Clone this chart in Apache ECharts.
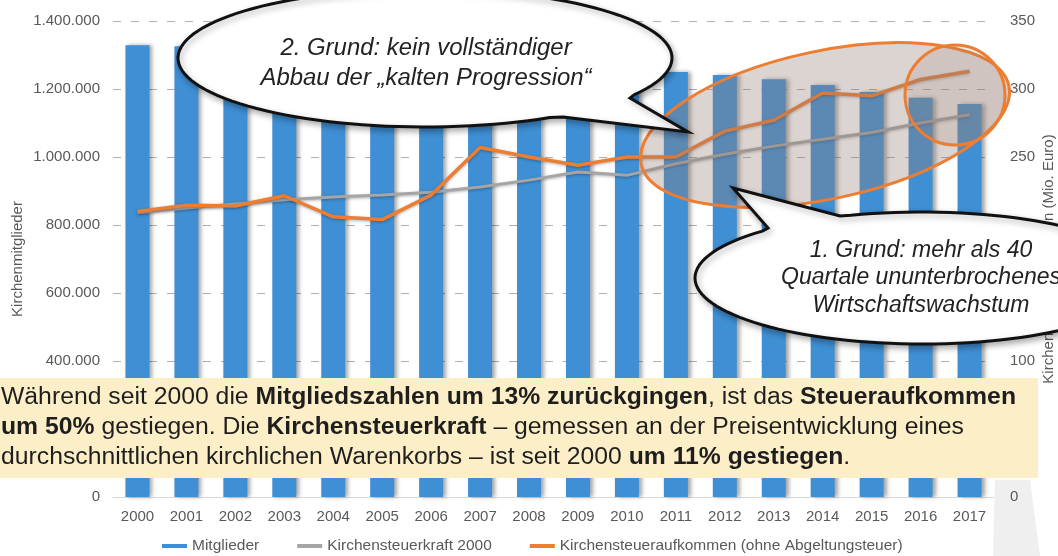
<!DOCTYPE html>
<html>
<head>
<meta charset="utf-8">
<script src="https://cdn.jsdelivr.net/npm/echarts@6/dist/echarts.min.js"></script>
<style>
  html, body { margin: 0; padding: 0; background: #fff; }
  #chart { width: 1058px; height: 556px; }
</style>
</head>
<body>
<div id="chart"></div>
<script>
// Daten
const years = ['2000', '2001', '2002', '2003', '2004', '2005', '2006', '2007', '2008',
  '2009', '2010', '2011', '2012', '2013', '2014', '2015', '2016', '2017']
const mitglieder = [1329000, 1326000, 1316000, 1305000, 1293000, 1282000, 1274000, 1267000, 1261000,
  1257000, 1253000, 1250000, 1241000, 1229000, 1212000, 1191000, 1174000, 1156000]
const steuerkraft = [209, 212.5, 215.5, 218.5, 220.5, 222, 224, 228, 233,
  239, 236.5, 245, 252, 258, 263, 268, 275, 281]
const aufkommen = [210, 214.5, 214, 221.5, 206, 204, 222, 257, 250,
  244, 250, 250, 269, 277, 297, 295, 307, 313]

const FONT = 'Arial, "Liberation Sans", sans-serif'
const GREY = '#595959'

const chart = echarts.init(document.getElementById('chart'), null, { renderer: 'canvas' })

function dots(v) {
  return String(v).replace(/\B(?=(\d{3})+(?!\d))/g, '.')
}

// Sprechblase: Ellipse mit Spitze, als Polygon
function bubble(cx, cy, rx, ry, p1, tip, p2) {
  const a1 = Math.atan2((p1[1] - cy) / ry, (p1[0] - cx) / rx)
  const a2 = Math.atan2((p2[1] - cy) / ry, (p2[0] - cx) / rx)
  let diff = a1 - a2
  while (diff < 0) diff += Math.PI * 2
  while (diff >= Math.PI * 2) diff -= Math.PI * 2
  if (diff < Math.PI) diff -= Math.PI * 2
  const pts = [p1, tip, p2]
  const n = 120
  for (let i = 1; i < n; i++) {
    const a = a2 + diff * i / n
    pts.push([cx + rx * Math.cos(a), cy + ry * Math.sin(a)])
  }
  return pts
}

const bubbleStyle = {
  fill: '#fff', stroke: '#111', lineWidth: 3, lineJoin: 'miter',
  shadowColor: 'rgba(0,0,0,0.3)', shadowBlur: 6, shadowOffsetX: 2, shadowOffsetY: 3
}

const option = {
  animation: false,
  backgroundColor: '#fff',
  textStyle: { fontFamily: FONT },
  grid: { left: 113, right: 64, top: 21, bottom: 59, outerBoundsMode: 'none' },
  legend: {
    left: 157,
    top: 533,
    icon: 'rect',
    itemWidth: 25,
    itemHeight: 4,
    itemGap: 38,
    textStyle: { color: GREY, fontSize: 15.5, fontFamily: FONT },
    data: ['Mitglieder', 'Kirchensteuerkraft 2000', 'Kirchensteueraufkommen (ohne Abgeltungsteuer)']
  },
  xAxis: {
    type: 'category',
    data: years,
    axisTick: { show: false },
    axisLine: { lineStyle: { color: '#d9d9d9' } },
    axisLabel: { color: GREY, fontSize: 15, margin: 12 }
  },
  yAxis: [
    {
      type: 'value',
      min: 0,
      max: 1400000,
      interval: 200000,
      name: 'Kirchenmitglieder',
      nameLocation: 'middle',
      nameGap: 88,
      nameMoveOverlap: false,
      nameTextStyle: { color: GREY, fontSize: 15 },
      axisLabel: { color: GREY, fontSize: 15, margin: 13, formatter: dots },
      splitLine: { lineStyle: { color: '#7a7a7a', type: [8, 10], opacity: 0.6 } }
    },
    {
      type: 'value',
      min: 0,
      max: 350,
      interval: 50,
      name: 'Kirchensteueraufkommen (Mio. Euro)',
      nameLocation: 'middle',
      nameGap: 47,
      nameRotate: 90,
      nameMoveOverlap: false,
      nameTextStyle: { color: GREY, fontSize: 15 },
      axisLabel: { color: GREY, fontSize: 15, margin: 16 },
      splitLine: { show: false }
    }
  ],
  series: [
    {
      name: 'Mitglieder',
      type: 'bar',
      data: mitglieder,
      barWidth: 24,
      itemStyle: {
        color: '#3f8fd4',
        shadowColor: 'rgba(0,0,0,0.35)',
        shadowBlur: 4,
        shadowOffsetX: 3
      }
    },
    {
      name: 'Kirchensteuerkraft 2000',
      type: 'line',
      yAxisIndex: 1,
      data: steuerkraft,
      symbol: 'none',
      lineStyle: { color: '#a5a5a5', width: 3, shadowColor: 'rgba(0,0,0,0.3)', shadowBlur: 3, shadowOffsetY: 1 },
      itemStyle: { color: '#a5a5a5' }
    },
    {
      name: 'Kirchensteueraufkommen (ohne Abgeltungsteuer)',
      type: 'line',
      yAxisIndex: 1,
      data: aufkommen,
      symbol: 'none',
      lineStyle: { color: '#ed7d31', width: 3.5, shadowColor: 'rgba(0,0,0,0.3)', shadowBlur: 3, shadowOffsetY: 1 },
      itemStyle: { color: '#ed7d31' }
    }
  ],
  graphic: [
    // grauer Schatten unten rechts
    {
      type: 'polygon',
      z: -10,
      shape: { points: [[995, 480], [1030, 480], [1040, 556], [993, 556]] },
      style: { fill: '#efefef' }
    },
    // markierter Bereich
    {
      type: 'ellipse',
      z: 50,
      x: 825,
      y: 125,
      rotation: 12 * Math.PI / 180,
      shape: { cx: 0, cy: 0, rx: 188, ry: 74 },
      style: { fill: 'rgba(150,125,115,0.33)', stroke: '#ed7d31', lineWidth: 3 }
    },
    {
      type: 'ellipse',
      z: 51,
      shape: { cx: 955, cy: 95, rx: 50, ry: 50 },
      style: { fill: 'rgba(150,125,115,0.18)', stroke: '#ed7d31', lineWidth: 3 }
    },
    // Sprechblase oben
    {
      type: 'polygon',
      z: 60,
      shape: { points: bubble(425, 58, 247, 69, [563, 117], [688, 132], [630, 98]) },
      style: bubbleStyle
    },
    {
      type: 'text',
      z: 61,
      x: 426,
      y: 64,
      scaleX: 1.04,
      style: {
        text: '2. Grund: kein vollständiger\nAbbau der „kalten Progression“',
        font: 'italic 23px ' + FONT,
        fill: '#222',
        align: 'center',
        verticalAlign: 'middle',
        lineHeight: 30
      }
    },
    // Sprechblase rechts
    {
      type: 'polygon',
      z: 60,
      shape: { points: bubble(922, 278, 227, 66, [768, 228], [733, 188], [840, 216]) },
      style: bubbleStyle
    },
    {
      type: 'text',
      z: 61,
      x: 921,
      y: 278,
      style: {
        text: '1. Grund: mehr als 40\nQuartale ununterbrochenes\nWirtschaftswachstum',
        font: 'italic 23px ' + FONT,
        fill: '#222',
        align: 'center',
        verticalAlign: 'middle',
        lineHeight: 27.5
      }
    },
    // Textkasten
    {
      type: 'rect',
      z: 70,
      shape: { x: 0, y: 378, width: 1038, height: 100 },
      style: { fill: '#fcefc7' }
    },
    {
      type: 'text',
      z: 71,
      x: 1,
      y: 383,
      scaleX: 1.076,
      style: {
        text: 'Während seit 2000 die {b|Mitgliedszahlen um 13% zurückgingen}, ist das {b|Steueraufkommen}\n' +
          '{b|um 50%} gestiegen. Die {b|Kirchensteuerkraft} – gemessen an der Preisentwicklung eines\n' +
          'durchschnittlichen kirchlichen Warenkorbs – ist seit 2000 {b|um 11% gestiegen}.',
        fontSize: 23,
        fontFamily: FONT,
        fill: '#1e1e1e',
        lineHeight: 30,
        verticalAlign: 'top',
        rich: {
          b: { fontSize: 23, fontFamily: FONT, fontWeight: 'bold', fill: '#1e1e1e', lineHeight: 30 }
        }
      }
    }
  ]
}

chart.setOption(option)
</script>
</body>
</html>
